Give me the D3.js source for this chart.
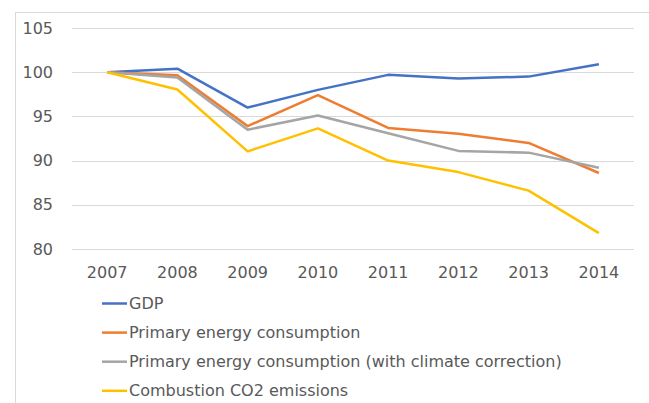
<!DOCTYPE html>
<html>
<head>
<meta charset="utf-8">
<script src="https://cdn.jsdelivr.net/npm/d3@7"></script>
<style>
  html, body { margin: 0; padding: 0; background: #fff; }
  svg { display: block; font-family: "DejaVu Sans", sans-serif; }
</style>
</head>
<body>
<svg id="chart" width="649" height="403"></svg>
<script>
// Index values, 2007 = 100
const years = ["2007", "2008", "2009", "2010", "2011", "2012", "2013", "2014"];
const gdp = [100, 100.4, 96.0, 98.0, 99.7, 99.3, 99.5, 100.9];
const primaryEnergy = [100, 99.65, 93.9, 97.4, 93.7, 93.05, 92.0, 88.6];
const primaryEnergyClimate = [100, 99.4, 93.5, 95.1, 93.1, 91.1, 90.9, 89.2];
const co2Emissions = [100, 98.05, 91.05, 93.65, 90.0, 88.7, 86.6, 81.8];
const yTicks = [80, 85, 90, 95, 100, 105];

const seriesNames = [
  "GDP",
  "Primary energy consumption",
  "Primary energy consumption (with climate correction)",
  "Combustion CO2 emissions"
];
const seriesValues = [gdp, primaryEnergy, primaryEnergyClimate, co2Emissions];
const seriesColors = ["#4472C4", "#ED7D31", "#A5A5A5", "#FFC000"];

const svg = d3.select("#chart");
const textColor = "#595959";
const fontFamily = "'DejaVu Sans', sans-serif";
const fontSize = "16px";

// outer chart frame
svg.append("rect")
  .attr("x", 15.5).attr("y", 12.5)
  .attr("width", 640).attr("height", 420)
  .attr("fill", "none").attr("stroke", "#d9d9d9").attr("stroke-width", 1);

const x = d3.scaleBand().domain(years).range([72, 634]);
const y = d3.scaleLinear().domain([80, 105]).range([249, 28]);

// horizontal gridlines
svg.append("g")
  .selectAll("line")
  .data(yTicks)
  .join("line")
  .attr("x1", 72).attr("x2", 634)
  .attr("y1", d => Math.round(y(d)) + 0.5)
  .attr("y2", d => Math.round(y(d)) + 0.5)
  .attr("stroke", "#d9d9d9").attr("stroke-width", 1);

// y axis labels
const yAxis = d3.axisLeft(y).tickValues(yTicks).tickSize(0).tickPadding(0);
const gy = svg.append("g").attr("transform", "translate(53,0)").call(yAxis);
gy.select(".domain").remove();
gy.selectAll("text")
  .attr("fill", textColor).style("font-size", fontSize)
  .style("font-family", fontFamily);

// x axis labels
const xAxis = d3.axisBottom(x).tickSize(0).tickPadding(0);
const gx = svg.append("g").attr("transform", "translate(0,267)").call(xAxis);
gx.select(".domain").remove();
gx.selectAll("text")
  .attr("fill", textColor).style("font-size", fontSize)
  .style("font-family", fontFamily);

// series lines
const line = d3.line()
  .x((d, i) => x(years[i]) + x.bandwidth() / 2)
  .y(d => y(d));

svg.append("g")
  .selectAll("path")
  .data(seriesValues)
  .join("path")
  .attr("d", d => line(d))
  .attr("fill", "none")
  .attr("stroke", (d, i) => seriesColors[i])
  .attr("stroke-width", 2.5)
  .attr("stroke-linejoin", "round");

// legend
const legend = svg.append("g")
  .selectAll("g")
  .data(seriesNames)
  .join("g")
  .attr("transform", (d, i) => `translate(102,${303.5 + i * 29.1})`);

legend.append("line")
  .attr("x1", 0).attr("x2", 25)
  .attr("y1", 0).attr("y2", 0)
  .attr("stroke", (d, i) => seriesColors[i])
  .attr("stroke-width", 2.5);

legend.append("text")
  .attr("x", 27).attr("y", 0)
  .attr("dy", "0.35em")
  .attr("fill", textColor)
  .style("font-size", fontSize)
  .style("font-family", fontFamily)
  .text(d => d);
</script>
</body>
</html>
